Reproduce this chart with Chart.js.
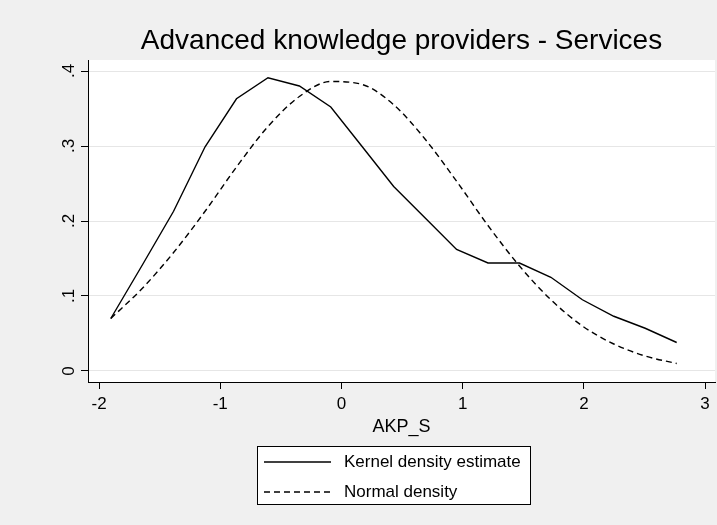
<!DOCTYPE html>
<html>
<head>
<meta charset="utf-8">
<script src="https://cdn.jsdelivr.net/npm/chart.js@4.4.1/dist/chart.umd.min.js"></script>
<style>
    html, body { margin: 0; padding: 0; background: #f0f0f0; }
    #wrap { width: 717px; height: 525px; }
</style>
</head>
<body>
<div id="wrap"><canvas id="densityChart" width="717" height="525"></canvas></div>
<script>
// Evaluation points (AKP_S) and densities
const xValues = [-1.903, -1.644, -1.385, -1.125, -0.866, -0.606, -0.347, -0.088, 0.172, 0.431,
    0.691, 0.950, 1.209, 1.469, 1.728, 1.988, 2.247, 2.506, 2.766];
const kernelValues = [0.070, 0.141, 0.213, 0.299, 0.363, 0.391, 0.380, 0.352, 0.299, 0.246,
    0.204, 0.162, 0.144, 0.144, 0.125, 0.095, 0.073, 0.057, 0.038];
const normalValues = [0.070, 0.110, 0.158, 0.213, 0.272, 0.326, 0.366, 0.386, 0.382, 0.355,
    0.309, 0.253, 0.194, 0.140, 0.095, 0.060, 0.036, 0.020, 0.010];

// Axis ticks
const xTicks = [-2, -1, 0, 1, 2, 3];
const yTicks = [0, 0.1, 0.2, 0.3, 0.4];
const yTickLabels = ['0', '.1', '.2', '.3', '.4'];

const seriesLabels = ['Kernel density estimate', 'Normal density'];
const chartTitle = 'Advanced knowledge providers - Services';
const xTitle = 'AKP_S';

const FONT = '"Liberation Sans", Arial, sans-serif';

document.addEventListener('DOMContentLoaded', () => {
    const toPoints = ys => xValues.map((x, i) => ({ x, y: ys[i] }));

    // White plot region on the grey background
    const plotBackground = {
        id: 'plotBackground',
        beforeDraw(chart) {
            const { ctx, chartArea } = chart;
            ctx.save();
            ctx.fillStyle = '#ffffff';
            ctx.fillRect(chartArea.left, chartArea.top,
                chartArea.right - chartArea.left, chartArea.bottom - chartArea.top);
            ctx.restore();
        }
    };

    // Stata-style vertical y labels
    const rotatedYLabels = {
        id: 'rotatedYLabels',
        afterDraw(chart) {
            const { ctx } = chart;
            const yScale = chart.scales.y;
            ctx.save();
            ctx.fillStyle = '#000';
            ctx.font = '17px ' + FONT;
            ctx.textAlign = 'center';
            ctx.textBaseline = 'alphabetic';
            yTicks.forEach((v, i) => {
                const py = yScale.getPixelForValue(v);
                ctx.save();
                ctx.translate(yScale.left + 74, py);
                ctx.rotate(-Math.PI / 2);
                ctx.fillText(yTickLabels[i], 0, 0);
                ctx.restore();
            });
            ctx.restore();
        }
    };

    // Boxed legend, one entry per row
    const boxedLegend = {
        id: 'boxedLegend',
        afterDraw(chart) {
            const { ctx } = chart;
            const box = { left: 257, top: 446, width: 273, height: 58 };
            ctx.save();
            ctx.fillStyle = '#ffffff';
            ctx.fillRect(box.left, box.top, box.width, box.height);
            ctx.strokeStyle = '#000';
            ctx.lineWidth = 1;
            ctx.strokeRect(box.left + 0.5, box.top + 0.5, box.width, box.height);

            ctx.font = '17px ' + FONT;
            ctx.textBaseline = 'middle';
            ctx.textAlign = 'left';
            chart.data.datasets.forEach((ds, i) => {
                const rowY = box.top + 16 + i * 30;
                ctx.strokeStyle = ds.borderColor;
                ctx.lineWidth = ds.borderWidth;
                ctx.setLineDash(ds.borderDash || []);
                ctx.beginPath();
                ctx.moveTo(box.left + 7, rowY);
                ctx.lineTo(box.left + 74, rowY);
                ctx.stroke();
                ctx.setLineDash([]);
                ctx.fillStyle = '#000';
                ctx.fillText(ds.label, box.left + 87, rowY);
            });
            ctx.restore();
        }
    };

    const ctx = document.getElementById('densityChart').getContext('2d');
    new Chart(ctx, {
        type: 'line',
        data: {
            datasets: [
                {
                    label: seriesLabels[0],
                    data: toPoints(kernelValues),
                    borderColor: '#000',
                    borderWidth: 1.4,
                    pointRadius: 0,
                    tension: 0,
                    fill: false
                },
                {
                    label: seriesLabels[1],
                    data: toPoints(normalValues),
                    borderColor: '#000',
                    borderWidth: 1.4,
                    borderDash: [6, 4],
                    pointRadius: 0,
                    cubicInterpolationMode: 'monotone',
                    fill: false
                }
            ]
        },
        options: {
            responsive: false,
            animation: false,
            layout: { padding: { left: 0, right: 2, top: 0, bottom: 87 } },
            scales: {
                x: {
                    type: 'linear',
                    min: -2.091,
                    max: 3.082,
                    afterBuildTicks: scale => { scale.ticks = xTicks.map(v => ({ value: v })); },
                    afterFit: scale => { scale.height = 56; },
                    grid: {
                        drawOnChartArea: false,
                        tickLength: 7,
                        tickColor: '#000',
                        tickWidth: 1
                    },
                    border: { color: '#000', width: 1 },
                    ticks: {
                        color: '#000',
                        font: { size: 17, family: FONT },
                        padding: 5,
                        maxRotation: 0,
                        callback: v => String(v)
                    },
                    title: {
                        display: true,
                        text: xTitle,
                        color: '#000',
                        font: { size: 18, family: FONT },
                        padding: 0
                    }
                },
                y: {
                    type: 'linear',
                    min: -0.01467,
                    max: 0.41467,
                    afterBuildTicks: scale => { scale.ticks = yTicks.map(v => ({ value: v })); },
                    afterFit: scale => { scale.width = 88; },
                    grid: {
                        color: '#e6e6e6',
                        tickLength: 7,
                        tickColor: '#000',
                        tickWidth: 1
                    },
                    border: { color: '#000', width: 1 },
                    ticks: { display: false }
                }
            },
            plugins: {
                legend: { display: false },
                tooltip: { enabled: false },
                title: {
                    display: true,
                    text: chartTitle,
                    color: '#000',
                    fullSize: false,
                    font: { size: 28, family: FONT, weight: 'normal', lineHeight: 1.2 },
                    padding: { top: 24, bottom: 2.4 }
                }
            }
        },
        plugins: [plotBackground, rotatedYLabels, boxedLegend]
    });
});
</script>
</body>
</html>
